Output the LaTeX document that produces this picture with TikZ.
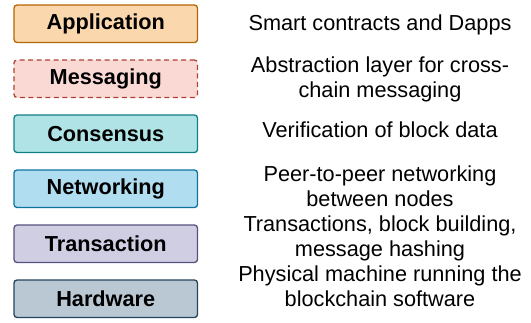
\documentclass[tikz,border=0pt]{standalone}
\usepackage{fontspec}
\setmainfont{Liberation Sans}
\definecolor{appfill}{HTML}{FAD7AC}
\definecolor{appline}{HTML}{B46504}
\definecolor{msgfill}{HTML}{FAD9D5}
\definecolor{msgline}{HTML}{AE4132}
\definecolor{consfill}{HTML}{B0E3E6}
\definecolor{consline}{HTML}{0E8088}
\definecolor{netfill}{HTML}{B1DDF0}
\definecolor{netline}{HTML}{10739E}
\definecolor{txfill}{HTML}{D0CEE2}
\definecolor{txline}{HTML}{56517E}
\definecolor{hwfill}{HTML}{BAC8D3}
\definecolor{hwline}{HTML}{23445D}
\begin{document}
\begin{tikzpicture}[x=1pt, y=1pt, node distance=55pt,
		layer/.style={draw, rounded corners=3pt, line width=1.3pt, minimum width=183.5pt, minimum height=37.5pt, inner sep=0pt, font=\fontsize{21.7}{25}\selectfont\bfseries},
		desc/.style={align=center, inner sep=0pt, node distance=274.25pt, font=\fontsize{21.7}{25}\selectfont}]
		\useasboundingbox (0,0) rectangle (531,-322);
		\node[layer, fill=appfill, draw=appline] (app) at (105.75,-23.75) {Application};
		\node[layer, fill=msgfill, draw=msgline, dash pattern=on 5pt off 3.5pt, below of = app] (msg) {Messaging};
		\node[layer, fill=consfill, draw=consline, below of = msg] (cons) {Consensus};
		\node[layer, fill=netfill, draw=netline, below of = cons] (net) {Networking};
		\node[layer, fill=txfill, draw=txline, below of = net] (tx) {Transaction};
		\node[layer, fill=hwfill, draw=hwline, below of = tx] (hw) {Hardware};
		\node[desc, right of = app, yshift=-0.75pt] (appdesc) {Smart contracts and Dapps};
		\node[desc, right of = msg, yshift=-1pt] (msgdesc) {Abstraction layer for cross-\\chain messaging};
		\node[desc, right of = cons, yshift=3.75pt] (consdesc) {Verification of block data};
		\node[desc, right of = net, yshift=2.55pt] (netdesc) {Peer-to-peer networking\\between nodes};
		\node[desc, right of = tx, yshift=5.3pt] (txdesc) {Transactions, block building,\\message hashing};
		\node[desc, right of = hw, yshift=12.55pt] (hwdesc) {Physical machine running the\\blockchain software};
	\end{tikzpicture}
\end{document}
